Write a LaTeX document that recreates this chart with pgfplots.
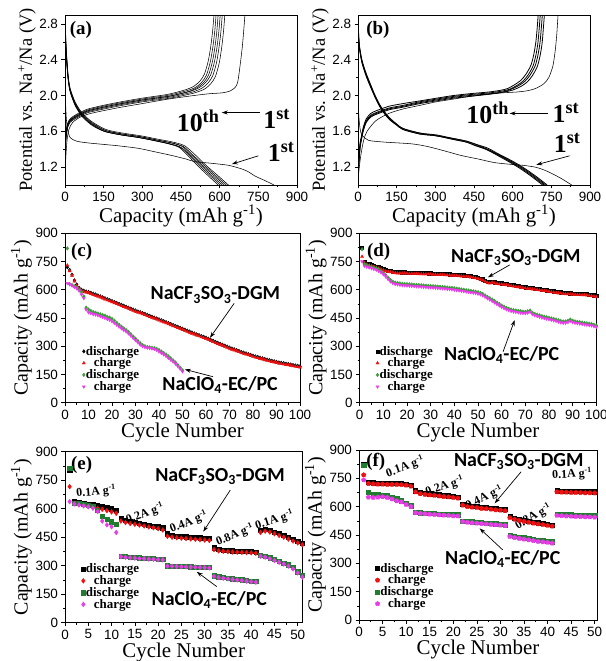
\documentclass[border=0pt]{standalone}
\usepackage{fontspec}
\setmainfont{Liberation Serif}
\newfontfamily\arial{Liberation Sans}
\newfontfamily\calibri{Carlito}
\usepackage{pgfplots}
\usepackage{pgfplotstable}
\pgfplotsset{compat=1.18}
\usetikzlibrary{arrows.meta}
\definecolor{cred}{HTML}{EE1111}
\definecolor{cgreen}{HTML}{3A9E3A}
\definecolor{dgreen}{HTML}{1E7E2E}
\definecolor{cmag}{HTML}{E83CE8}

% (c) cycling, NaCF3SO3-DGM: cycle, discharge, charge
\pgfplotstableread[row sep=\\]{c d r\\
1 720 730\\ 2 705 700\\ 3 680 676\\ 4 650 645\\ 5 628 622\\ 6 610 605\\ 7 600 595\\ 8 595 590\\ 9 591 586\\ 10 588 583\\
11 584 579\\ 12 579 574\\ 13 575 570\\ 14 570 565\\ 15 565 560\\ 16 560 555\\ 17 555 550\\ 18 550 545\\ 19 545 540\\ 20 540 535\\
21 535 530\\ 22 530 525\\ 23 525 520\\ 24 520 515\\ 25 515 510\\ 26 510 505\\ 27 505 500\\ 28 500 495\\ 29 495 490\\ 30 490 485\\
31 485 480\\ 32 481 476\\ 33 476 471\\ 34 472 467\\ 35 467 462\\ 36 462 457\\ 37 457 452\\ 38 452 447\\ 39 448 443\\ 40 443 438\\
41 438 433\\ 42 433 428\\ 43 428 423\\ 44 423 418\\ 45 418 413\\ 46 413 408\\ 47 408 403\\ 48 403 398\\ 49 398 393\\ 50 393 388\\
51 388 383\\ 52 383 378\\ 53 378 373\\ 54 373 368\\ 55 368 363\\ 56 363 358\\ 57 359 354\\ 58 354 349\\ 59 350 345\\ 60 345 340\\
61 340 335\\ 62 334 329\\ 63 329 324\\ 64 323 318\\ 65 318 313\\ 66 313 308\\ 67 308 303\\ 68 303 298\\ 69 298 293\\ 70 293 288\\
71 288 283\\ 72 284 279\\ 73 279 274\\ 74 275 270\\ 75 270 265\\ 76 266 261\\ 77 262 257\\ 78 258 253\\ 79 254 249\\ 80 250 245\\
81 246 241\\ 82 243 238\\ 83 239 234\\ 84 236 231\\ 85 232 227\\ 86 229 224\\ 87 226 221\\ 88 223 218\\ 89 220 215\\ 90 217 212\\
91 214 209\\ 92 212 207\\ 93 210 205\\ 94 207 202\\ 95 205 200\\ 96 203 198\\ 97 200 195\\ 98 198 193\\ 99 196 191\\ 100 193 188\\
}\tabCdgm
% (c) cycling, NaClO4-EC/PC
\pgfplotstableread[row sep=\\]{c g m\\
1 820 635\\ 2 630 628\\ 3 625 622\\ 4 618 615\\ 5 612 608\\ 6 600 595\\ 7 590 575\\ 8 565 555\\ 9 505 495\\ 10 495 480\\
11 488 475\\ 12 482 470\\ 13 478 468\\ 14 474 464\\ 15 470 460\\ 16 466 455\\ 17 462 450\\ 18 456 444\\ 19 452 440\\ 20 445 432\\
21 436 424\\ 22 425 414\\ 23 414 404\\ 24 404 395\\ 25 395 386\\ 26 386 378\\ 27 376 368\\ 28 364 356\\ 29 352 344\\ 30 340 332\\
31 328 320\\ 32 316 308\\ 33 306 300\\ 34 300 295\\ 35 296 292\\ 36 294 290\\ 37 292 288\\ 38 290 285\\ 39 286 280\\ 40 280 272\\
41 272 264\\ 42 264 256\\ 43 256 248\\ 44 246 238\\ 45 236 228\\ 46 225 218\\ 47 214 207\\ 48 200 194\\ 49 186 180\\ 50 172 166\\
}\tabCclo
% (d) cycling, NaCF3SO3-DGM
\pgfplotstableread[row sep=\\]{c d r\\
1 825 776\\ 2 748 742\\ 3 740 734\\ 4 736 730\\ 5 732 726\\ 6 728 722\\ 7 724 718\\ 8 720 714\\ 9 715 709\\ 10 710 704\\
11 705 699\\ 12 702 696\\ 13 700 694\\ 14 698 692\\ 15 695 689\\ 16 694 688\\ 17 694 688\\ 18 693 687\\ 19 693 687\\ 20 692 686\\
21 692 686\\ 22 692 686\\ 23 691 685\\ 24 691 685\\ 25 690 684\\ 26 690 684\\ 27 689 683\\ 28 689 683\\ 29 688 682\\ 30 688 682\\
31 687 681\\ 32 687 681\\ 33 686 680\\ 34 686 680\\ 35 685 679\\ 36 684 678\\ 37 684 678\\ 38 683 677\\ 39 682 676\\ 40 681 675\\
41 680 674\\ 42 679 673\\ 43 678 672\\ 44 677 671\\ 45 676 670\\ 46 675 669\\ 47 673 667\\ 48 671 665\\ 49 668 662\\ 50 665 659\\
51 660 654\\ 52 656 650\\ 53 650 644\\ 54 644 638\\ 55 641 635\\ 56 645 639\\ 57 640 634\\ 58 638 632\\ 59 636 630\\ 60 635 629\\
61 633 627\\ 62 631 625\\ 63 629 623\\ 64 627 621\\ 65 625 619\\ 66 622 616\\ 67 620 614\\ 68 618 612\\ 69 616 610\\ 70 614 608\\
71 613 607\\ 72 611 605\\ 73 609 603\\ 74 607 601\\ 75 606 600\\ 76 604 598\\ 77 602 596\\ 78 600 594\\ 79 598 592\\ 80 596 590\\
81 594 588\\ 82 592 586\\ 83 590 584\\ 84 588 582\\ 85 587 581\\ 86 585 579\\ 87 584 578\\ 88 583 577\\ 89 582 576\\ 90 581 575\\
91 580 574\\ 92 580 574\\ 93 579 573\\ 94 578 572\\ 95 578 572\\ 96 577 571\\ 97 575 569\\ 98 573 567\\ 99 571 565\\ 100 568 562\\
}\tabDdgm
% (d) cycling, NaClO4-EC/PC
\pgfplotstableread[row sep=\\]{c g m\\
1 815 750\\ 2 735 727\\ 3 730 722\\ 4 726 718\\ 5 722 714\\ 6 718 710\\ 7 714 706\\ 8 708 700\\ 9 700 692\\ 10 690 682\\
11 678 670\\ 12 664 656\\ 13 652 644\\ 14 643 635\\ 15 638 630\\ 16 636 628\\ 17 634 626\\ 18 632 624\\ 19 631 623\\ 20 630 622\\
21 629 621\\ 22 628 620\\ 23 627 619\\ 24 626 618\\ 25 625 617\\ 26 624 616\\ 27 623 615\\ 28 622 614\\ 29 621 613\\ 30 620 612\\
31 619 611\\ 32 618 610\\ 33 617 609\\ 34 616 608\\ 35 615 607\\ 36 614 606\\ 37 612 604\\ 38 611 603\\ 39 610 602\\ 40 608 600\\
41 606 598\\ 42 604 596\\ 43 602 594\\ 44 600 592\\ 45 598 590\\ 46 596 588\\ 47 594 586\\ 48 592 584\\ 49 590 582\\ 50 587 579\\
51 583 575\\ 52 578 570\\ 53 570 562\\ 54 562 554\\ 55 555 547\\ 56 548 540\\ 57 540 532\\ 58 532 524\\ 59 524 516\\ 60 516 508\\
61 510 502\\ 62 504 496\\ 63 499 491\\ 64 495 487\\ 65 492 484\\ 66 490 482\\ 67 488 480\\ 68 486 478\\ 69 484 476\\ 70 483 475\\
71 486 478\\ 72 490 482\\ 73 478 470\\ 74 472 464\\ 75 468 460\\ 76 464 456\\ 77 460 452\\ 78 457 449\\ 79 454 446\\ 80 451 443\\
81 448 440\\ 82 445 437\\ 83 442 434\\ 84 438 430\\ 85 434 426\\ 86 432 424\\ 87 432 424\\ 88 436 428\\ 89 442 434\\ 90 436 428\\
91 432 424\\ 92 430 422\\ 93 428 420\\ 94 426 418\\ 95 424 416\\ 96 422 414\\ 97 420 412\\ 98 418 410\\ 99 414 406\\ 100 410 402\\
}\tabDclo
% (e) rate: cycle, DGM dis, DGM chg, ECPC dis, ECPC chg
\pgfplotstableread[row sep=\\]{c k r g m\\
1 805 716 812 637\\ 2 637 628 630 625\\ 3 633 622 628 620\\ 4 629 617 624 615\\ 5 625 612 620 610\\
6 621 607 612 603\\ 7 616 602 590 585\\ 8 611 597 560 535\\ 9 606 590 545 515\\ 10 600 583 532 505\\
11 593 576 520 475\\ 12 550 535 352 348\\ 13 540 527 348 344\\ 14 534 522 346 342\\ 15 529 518 344 340\\
16 524 514 342 338\\ 17 519 509 341 337\\ 18 514 504 339 335\\ 19 510 500 338 334\\ 20 505 495 336 332\\
21 500 488 335 331\\ 22 468 455 300 298\\ 23 460 450 299 297\\ 24 457 447 298 296\\ 25 455 445 297 295\\
26 453 443 296 294\\ 27 451 441 295 293\\ 28 449 439 294 292\\ 29 447 437 293 291\\ 30 445 435 292 290\\
31 443 433 290 288\\ 32 395 385 247 244\\ 33 386 378 242 238\\ 34 383 376 238 234\\ 35 381 374 235 231\\
36 379 372 232 228\\ 37 378 371 229 225\\ 38 377 370 226 222\\ 39 376 369 223 219\\ 40 375 368 220 216\\
41 373 366 217 213\\ 42 485 475 355 350\\ 43 492 482 350 345\\ 44 487 477 342 337\\ 45 478 468 333 327\\
46 469 459 325 318\\ 47 460 450 315 309\\ 48 450 440 305 298\\ 49 440 430 290 283\\ 50 430 420 268 262\\
51 420 410 248 240\\
}\tabE
% (f) rate
\pgfplotstableread[row sep=\\]{c k r g m\\
1 825 768 818 741\\ 2 728 722 675 650\\ 3 727 720 668 648\\ 4 726 719 665 650\\ 5 726 719 662 652\\
6 725 718 658 648\\ 7 725 718 650 640\\ 8 724 717 642 630\\ 9 723 716 632 625\\ 10 721 714 620 612\\
11 715 708 605 600\\ 12 685 678 572 568\\ 13 675 668 568 564\\ 14 672 665 566 562\\ 15 669 662 565 560\\
16 666 659 564 558\\ 17 663 656 562 556\\ 18 660 653 561 555\\ 19 658 651 560 553\\ 20 655 648 558 551\\
21 652 645 557 550\\ 22 615 608 525 520\\ 23 607 600 522 517\\ 24 604 597 520 514\\ 25 601 594 518 512\\
26 598 591 516 510\\ 27 596 589 514 508\\ 28 593 586 512 506\\ 29 590 583 510 504\\ 30 588 581 508 502\\
31 585 578 505 499\\ 32 548 541 450 442\\ 33 540 533 444 436\\ 34 534 527 440 432\\ 35 529 522 436 428\\
36 524 517 432 424\\ 37 519 512 428 420\\ 38 515 508 424 416\\ 39 511 504 421 413\\ 40 507 500 418 410\\
41 503 496 415 407\\ 42 685 678 560 553\\ 43 684 677 559 552\\ 44 683 676 558 550\\ 45 682 675 557 549\\
46 682 675 556 548\\ 47 681 674 555 547\\ 48 680 673 555 546\\ 49 680 673 554 545\\ 50 679 672 553 544\\
51 678 671 552 543\\
}\tabF

\pgfplotsset{
  panel/.style={
    scale only axis, anchor=south west,
    axis line style={line width=0.8pt},
    tick align=outside, tick pos=left,
    major tick length=3.5bp, minor tick length=2bp,
    tick style={black, line width=0.6pt},
    tick label style={font=\arial\fontsize{13.5}{13.5}\selectfont},
    /pgf/number format/assume math mode=true,
    xlabel style={font=\fontsize{21}{21}\selectfont, inner sep=0pt},
    ylabel style={font=\fontsize{20}{20}\selectfont, inner sep=0pt},
    legend style={draw=none, fill=none, font=\bfseries\fontsize{13}{13}\selectfont,
      row sep=0.3pt, nodes={inner sep=0.5pt}},
    legend cell align=center,
    legend image code/.code={\draw plot coordinates {(0.15cm,0cm)};},
  },
  cyc/.style={panel, ymin=0, ymax=900, ytick={0,150,...,900}, minor y tick num=1,
    xlabel={Cycle Number}, ylabel={Capacity (mAh g\textsuperscript{-1})}},
  volt/.style={panel, xmin=0, xmax=900, ymin=1.0, ymax=2.9,
    xtick={0,150,...,900}, ytick={1.2,1.6,2.0,2.4,2.8},
    minor x tick num=1, minor y tick num=1,
    yticklabel style={/pgf/number format/.cd, fixed, fixed zerofill, precision=1},
    xlabel={Capacity (mAh g\textsuperscript{-1})},
    ylabel={Potential vs. Na\textsuperscript{+}/Na (V)},
    ylabel style={font=\fontsize{18.5}{18.5}\selectfont}},
}
\tikzset{
  vl/.style={black, line width=0.55pt, smooth, tension=0.45},
  plab/.style={font=\bfseries\fontsize{19}{19}\selectfont, anchor=north west, inner sep=0pt},
  big/.style={font=\bfseries\fontsize{26}{26}\selectfont, anchor=base west, inner sep=0pt},
  elec/.style={font=\calibri\bfseries\fontsize{20}{20}\selectfont, anchor=base, inner sep=0pt},
  rate/.style={font=\bfseries\fontsize{12}{12}\selectfont, inner sep=0pt},
  arr/.style={-{Stealth[length=6bp,width=4bp]}, line width=0.7pt},
}

\begin{document}
\begin{tikzpicture}
% ---------------- (a)
\begin{axis}[volt, at={(65bp,476bp)}, width=232bp, height=170bp]
\addplot[vl] coordinates {(0,2.62) (5,2.42) (12,2.18) (20,2.04) (39,1.89) (65,1.77) (103,1.67) (151,1.60) (216,1.56) (286,1.53) (356,1.49) (402,1.46) (443,1.42) (476,1.33) (513,1.22) (553,1.11) (594,1.0)};
\addplot[vl] coordinates {(0,2.68) (5,2.44) (12,2.19) (20,2.05) (39,1.90) (65,1.78) (103,1.68) (153,1.60) (218,1.56) (288,1.53) (358,1.49) (405,1.46) (447,1.42) (482,1.33) (520,1.22) (561,1.11) (602,1.0)};
\addplot[vl] coordinates {(0,2.74) (5,2.46) (12,2.20) (20,2.05) (39,1.90) (65,1.78) (103,1.68) (154,1.60) (219,1.56) (289,1.53) (359,1.49) (408,1.46) (451,1.42) (487,1.33) (527,1.22) (568,1.11) (610,1.0)};
\addplot[vl] coordinates {(0,2.80) (5,2.48) (12,2.21) (20,2.06) (39,1.91) (65,1.79) (103,1.69) (156,1.61) (221,1.57) (291,1.54) (361,1.50) (412,1.47) (455,1.43) (493,1.33) (533,1.22) (576,1.11) (618,1.0)};
\addplot[vl] coordinates {(0,2.85) (5,2.50) (12,2.22) (20,2.07) (39,1.92) (65,1.80) (103,1.70) (157,1.61) (222,1.57) (292,1.54) (362,1.50) (415,1.47) (459,1.43) (498,1.33) (540,1.22) (583,1.11) (626,1.0)};
\addplot[vl] coordinates {(0,2.90) (5,2.52) (12,2.23) (20,2.08) (39,1.93) (65,1.81) (103,1.71) (159,1.62) (224,1.58) (294,1.55) (364,1.51) (418,1.48) (463,1.44) (504,1.34) (547,1.22) (591,1.11) (634,1.0)};
\addplot[vl] coordinates {(0,2.3) (2,1.95) (5,1.75) (10,1.62) (20,1.53) (45,1.49) (90,1.47) (200,1.44) (284,1.41) (350,1.37) (414,1.33) (470,1.29) (504,1.26) (560,1.245) (634,1.22) (685,1.18) (710,1.15) (737,1.10) (775,1.05) (811,1.0)};
\addplot[vl] coordinates {(0,1.40) (2,1.52) (5,1.62) (10,1.69) (20,1.74) (39,1.78) (65,1.82) (90,1.85) (148,1.89) (218,1.93) (298,1.97) (393,2.01) (438,2.04) (473,2.07) (498,2.10) (523,2.16) (541,2.24) (556,2.39) (566,2.56) (573,2.73) (578,2.9)};
\addplot[vl] coordinates {(0,1.35) (2,1.50) (5,1.60) (10,1.68) (20,1.73) (39,1.77) (65,1.81) (90,1.84) (148,1.88) (218,1.92) (298,1.96) (395,2.00) (442,2.03) (479,2.06) (506,2.09) (531,2.15) (549,2.23) (564,2.38) (574,2.55) (581,2.72) (586,2.9)};
\addplot[vl] coordinates {(0,1.30) (2,1.47) (5,1.59) (10,1.67) (20,1.72) (39,1.76) (65,1.80) (90,1.83) (149,1.87) (219,1.91) (299,1.95) (398,1.99) (446,2.02) (484,2.05) (514,2.09) (539,2.15) (557,2.23) (572,2.38) (582,2.55) (589,2.72) (594,2.9)};
\addplot[vl] coordinates {(0,1.25) (2,1.44) (5,1.57) (10,1.66) (20,1.72) (39,1.76) (65,1.80) (90,1.83) (150,1.87) (220,1.91) (300,1.95) (400,1.99) (450,2.02) (490,2.05) (522,2.09) (547,2.15) (565,2.23) (580,2.38) (590,2.55) (597,2.72) (602,2.9)};
\addplot[vl] coordinates {(0,1.20) (2,1.42) (5,1.56) (10,1.65) (20,1.71) (39,1.75) (65,1.79) (90,1.82) (151,1.86) (221,1.90) (301,1.94) (402,1.98) (454,2.01) (496,2.04) (530,2.08) (555,2.14) (573,2.22) (588,2.37) (598,2.55) (605,2.72) (610,2.9)};
\addplot[vl] coordinates {(0,1.15) (2,1.40) (5,1.55) (10,1.64) (20,1.70) (39,1.74) (65,1.78) (90,1.81) (152,1.85) (222,1.89) (302,1.93) (405,1.97) (459,2.00) (503,2.03) (540,2.07) (565,2.13) (583,2.21) (598,2.36) (608,2.54) (615,2.72) (620,2.9)};
\addplot[vl] coordinates {(0,1.02) (3,1.30) (8,1.50) (15,1.62) (30,1.70) (60,1.76) (100,1.80) (200,1.86) (300,1.91) (400,1.96) (500,2.00) (560,2.02) (610,2.03) (640,2.05) (660,2.09) (670,2.15) (679,2.33) (688,2.55) (694,2.75) (698,2.9)};
\node[plab] at (rel axis cs:0.02,0.965) {(a)};
\node[big] at (axis cs:433,1.60) {10\textsuperscript{th}};
\node[big] at (axis cs:769,1.63) {1\textsuperscript{st}};
\node[big] at (axis cs:786,1.26) {1\textsuperscript{st}};
\draw[arr] (axis cs:756,1.81) -- (axis cs:608,1.81);
\draw[arr] (axis cs:750,1.326) -- (axis cs:647,1.233);
\end{axis}
% ---------------- (b)
\begin{axis}[volt, at={(358bp,476bp)}, width=232bp, height=170bp]
\addplot[vl, line width=0.8pt] coordinates {(0,2.70) (5,2.54) (15,2.37) (30,2.23) (45,2.12) (65,1.99) (84,1.88) (105,1.79) (123,1.73) (150,1.67) (175,1.62) (240,1.57) (304,1.55) (369,1.51) (420,1.48) (455,1.44) (495,1.40) (529,1.35) (579,1.27) (626,1.19) (671,1.10) (716,1.0)};
\addplot[vl, line width=0.8pt] coordinates {(0,2.75) (5,2.55) (15,2.38) (30,2.24) (45,2.13) (65,1.99) (84,1.88) (105,1.79) (123,1.73) (150,1.67) (175,1.62) (240,1.57) (304,1.55) (369,1.51) (420,1.48) (458,1.44) (498,1.40) (534,1.35) (585,1.27) (632,1.19) (677,1.10) (722,1.0)};
\addplot[vl, line width=0.8pt] coordinates {(0,2.80) (5,2.56) (15,2.39) (30,2.25) (45,2.14) (65,2.00) (84,1.89) (105,1.80) (123,1.74) (150,1.68) (175,1.63) (240,1.58) (304,1.55) (369,1.52) (420,1.49) (460,1.45) (502,1.40) (538,1.35) (591,1.27) (638,1.19) (683,1.10) (728,1.0)};
\addplot[vl, line width=0.8pt] coordinates {(0,2.85) (5,2.57) (15,2.40) (30,2.26) (45,2.15) (65,2.01) (84,1.90) (105,1.81) (123,1.75) (150,1.68) (175,1.63) (240,1.58) (304,1.56) (369,1.52) (420,1.49) (463,1.45) (505,1.41) (543,1.35) (597,1.27) (644,1.19) (689,1.10) (734,1.0)};
\addplot[vl] coordinates {(0,2.0) (3,1.78) (8,1.63) (15,1.56) (40,1.50) (100,1.48) (208,1.46) (270,1.43) (337,1.38) (400,1.33) (467,1.29) (530,1.25) (596,1.23) (640,1.22) (687,1.20) (720,1.17) (751,1.13) (790,1.07) (829,1.0)};
\addplot[vl, line width=0.8pt] coordinates {(0,1.15) (4,1.33) (8,1.47) (13,1.54) (20,1.64) (32,1.74) (50,1.80) (71,1.83) (120,1.88) (175,1.91) (240,1.94) (304,1.97) (370,2.00) (433,2.02) (509,2.04) (556,2.06) (582,2.08) (607,2.12) (632,2.17) (652,2.24) (671,2.34) (682,2.46) (690,2.60) (695,2.75) (699,2.9)};
\addplot[vl, line width=0.8pt] coordinates {(0,1.10) (4,1.30) (8,1.45) (13,1.52) (20,1.62) (32,1.72) (50,1.78) (71,1.81) (120,1.86) (175,1.89) (240,1.93) (304,1.96) (370,1.99) (433,2.01) (511,2.03) (560,2.05) (588,2.07) (615,2.11) (640,2.16) (660,2.23) (679,2.33) (690,2.45) (698,2.59) (703,2.75) (707,2.9)};
\addplot[vl, line width=0.8pt] coordinates {(0,1.05) (4,1.28) (8,1.43) (13,1.51) (20,1.61) (32,1.71) (50,1.77) (71,1.80) (120,1.85) (175,1.88) (240,1.92) (304,1.95) (370,1.98) (433,2.00) (513,2.02) (564,2.04) (594,2.07) (623,2.11) (648,2.16) (668,2.23) (687,2.33) (698,2.45) (706,2.59) (711,2.75) (715,2.9)};
\addplot[vl, line width=0.8pt] coordinates {(0,1.20) (4,1.26) (8,1.41) (13,1.50) (20,1.60) (32,1.70) (50,1.76) (71,1.79) (120,1.84) (175,1.87) (240,1.91) (304,1.94) (370,1.97) (433,1.99) (516,2.02) (568,2.04) (599,2.06) (631,2.10) (656,2.15) (676,2.22) (695,2.32) (706,2.44) (714,2.58) (719,2.75) (723,2.9)};
\addplot[vl] coordinates {(0,1.05) (5,1.20) (12,1.35) (22,1.50) (35,1.60) (70,1.72) (120,1.80) (175,1.85) (240,1.89) (304,1.93) (370,1.96) (433,1.99) (500,2.01) (560,2.03) (620,2.04) (660,2.055) (690,2.08) (720,2.13) (740,2.20) (756,2.33) (765,2.50) (771,2.68) (776,2.9)};
\node[plab] at (rel axis cs:0.035,0.965) {(b)};
\node[big] at (axis cs:420,1.685) {10\textsuperscript{th}};
\node[big] at (axis cs:754,1.70) {1\textsuperscript{st}};
\node[big] at (axis cs:759,1.363) {1\textsuperscript{st}};
\draw[arr] (axis cs:737,1.80) -- (axis cs:588,1.80);
\draw[arr] (axis cs:821,1.326) -- (axis cs:692,1.226);
\end{axis}
% ---------------- (c)
\begin{axis}[cyc, at={(65bp,258.3bp)}, width=235bp, height=169.4bp,
  xmin=0, xmax=100, xtick={0,10,...,100}, minor x tick num=1,
  legend style={at={(0.06,0.35)}, anchor=north west}]
\addplot[only marks, mark=diamond*, mark size=1.8pt, black] table[x=c,y=d] {\tabCdgm};
\addlegendentry{discharge}
\addplot[only marks, mark=triangle*, mark size=1.8pt, cred] table[x=c,y=r] {\tabCdgm};
\addlegendentry{charge}
\addplot[only marks, mark=diamond*, mark size=1.8pt, cgreen] table[x=c,y=g] {\tabCclo};
\addlegendentry{discharge}
\addplot[only marks, mark=triangle*, mark size=1.8pt, mark options={rotate=180}, cmag] table[x=c,y=m] {\tabCclo};
\addlegendentry{charge}
\node[plab] at (rel axis cs:0.025,0.94) {(c)};
\node[elec] at (axis cs:64,546) {NaCF\textsubscript{3}SO\textsubscript{3}-DGM};
\node[elec] at (axis cs:66,64) {NaClO\textsubscript{4}-EC/PC};
\draw[arr] (axis cs:72,528) -- (axis cs:61.7,345);
\draw[arr] (axis cs:63,138) -- (axis cs:51,177);
\end{axis}
% ---------------- (d)
\begin{axis}[cyc, at={(359.7bp,258.3bp)}, width=236.6bp, height=169.4bp,
  xmin=0, xmax=100, xtick={0,10,...,100}, minor x tick num=1,
  legend style={at={(0.055,0.35)}, anchor=north west}]
\addplot[only marks, mark=square*, mark size=1.6pt, black] table[x=c,y=d] {\tabDdgm};
\addlegendentry{discharge}
\addplot[only marks, mark=triangle*, mark size=1.8pt, cred] table[x=c,y=r] {\tabDdgm};
\addlegendentry{charge}
\addplot[only marks, mark=diamond*, mark size=1.8pt, cgreen] table[x=c,y=g] {\tabDclo};
\addlegendentry{discharge}
\addplot[only marks, mark=triangle*, mark size=1.8pt, mark options={rotate=180}, cmag] table[x=c,y=m] {\tabDclo};
\addlegendentry{charge}
\node[plab] at (rel axis cs:0.03,0.94) {(d)};
\node[elec] at (axis cs:66,744) {NaCF\textsubscript{3}SO\textsubscript{3}-DGM};
\node[elec] at (axis cs:60,223) {NaClO\textsubscript{4}-EC/PC};
\draw[arr] (axis cs:63.4,732) -- (axis cs:54.2,666);
\draw[arr] (axis cs:60.6,271) -- (axis cs:65.5,439);
\end{axis}
% ---------------- (e)
\begin{axis}[cyc, at={(65bp,38.3bp)}, width=237.4bp, height=171bp,
  xmin=0, xmax=51, xtick={0,5,...,50}, minor x tick num=1,
  legend style={at={(0.055,0.36)}, anchor=north west}]
\addplot[only marks, mark=square*, mark size=2.1pt, black] table[x=c,y=k] {\tabE};
\addlegendentry{discharge}
\addplot[only marks, mark=diamond*, mark size=2.4pt, cred] table[x=c,y=r] {\tabE};
\addlegendentry{charge}
\addplot[only marks, mark=square*, mark size=2.1pt, dgreen] table[x=c,y=g] {\tabE};
\addlegendentry{discharge}
\addplot[only marks, mark=diamond*, mark size=2.4pt, cmag] table[x=c,y=m] {\tabE};
\addlegendentry{charge}
\node[plab] at (rel axis cs:0.025,0.975) {(e)};
\node[elec] at (axis cs:33.3,742) {NaCF\textsubscript{3}SO\textsubscript{3}-DGM};
\node[elec] at (axis cs:31,89) {NaClO\textsubscript{4}-EC/PC};
\draw[arr] (axis cs:35.5,698) -- (axis cs:29.7,479);
\draw[arr] (axis cs:32.6,190) -- (axis cs:28.3,268);
\node[rate, rotate=5] at (axis cs:6.7,690) {0.1A g\textsuperscript{-1}};
\node[rate, rotate=20] at (axis cs:17.2,577) {0.2A g\textsuperscript{-1}};
\node[rate, rotate=22] at (axis cs:26.6,530) {0.4A g\textsuperscript{-1}};
\node[rate, rotate=22] at (axis cs:36.5,462) {0.8A g\textsuperscript{-1}};
\node[rate, rotate=18] at (axis cs:45,540) {0.1A g\textsuperscript{-1}};
\end{axis}
% ---------------- (f)
\begin{axis}[cyc, at={(359bp,41bp)}, width=238bp, height=170bp,
  xmin=0, xmax=50.5, xtick={0,5,...,50}, minor x tick num=1,
  legend style={at={(0.055,0.35)}, anchor=north west}]
\addplot[only marks, mark=square*, mark size=2.1pt, black] table[x=c,y=k] {\tabF};
\addlegendentry{discharge}
\addplot[only marks, mark=pentagon*, mark size=2.4pt, cred] table[x=c,y=r] {\tabF};
\addlegendentry{charge}
\addplot[only marks, mark=square*, mark size=2.1pt, dgreen] table[x=c,y=g] {\tabF};
\addlegendentry{discharge}
\addplot[only marks, mark=pentagon*, mark size=2.4pt, cmag] table[x=c,y=m] {\tabF};
\addlegendentry{charge}
\node[plab] at (rel axis cs:0.03,0.98) {(f)};
\node[elec] at (axis cs:33.9,815) {NaCF\textsubscript{3}SO\textsubscript{3}-DGM};
\node[elec] at (axis cs:30.5,296) {NaClO\textsubscript{4}-EC/PC};
\draw[arr] (axis cs:34.4,785) -- (axis cs:28.8,618);
\draw[arr] (axis cs:30.5,371) -- (axis cs:25.6,485);
\node[rate, rotate=20] at (axis cs:9.8,810) {0.1A g\textsuperscript{-1}};
\node[rate, rotate=18] at (axis cs:18.2,709) {0.2A g\textsuperscript{-1}};
\node[rate, rotate=25] at (axis cs:26.6,648) {0.4A g\textsuperscript{-1}};
\node[rate, rotate=30] at (axis cs:37.0,548) {0.8A g\textsuperscript{-1}};
\node[rate, rotate=3] at (axis cs:45.2,773) {0.1A g\textsuperscript{-1}};
\end{axis}
\pgfresetboundingbox
\path[use as bounding box] (0,0) rectangle (606bp,661bp);
\end{tikzpicture}
\end{document}
